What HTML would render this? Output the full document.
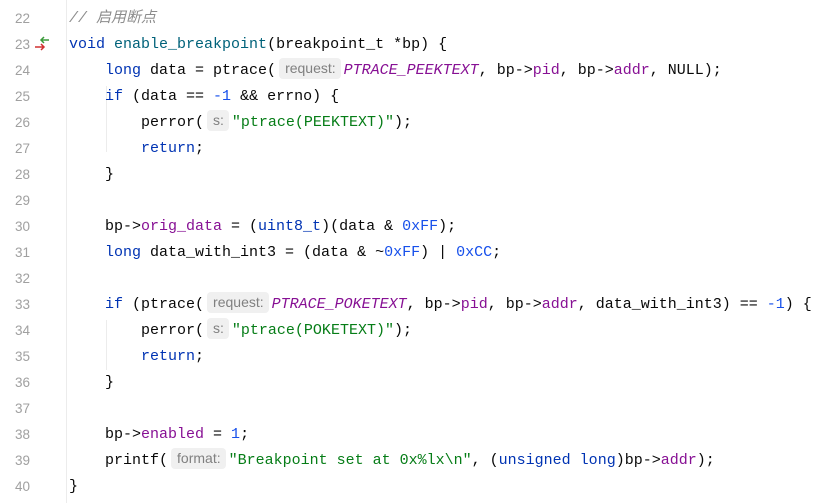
<!DOCTYPE html>
<html><head><meta charset="utf-8"><style>
body{margin:0;width:832px;height:503px;background:#fff;overflow:hidden;position:relative;font-family:"Liberation Mono","Noto Sans CJK SC",monospace;font-size:15px;color:#080808}
.ln{position:absolute;left:0;width:30px;text-align:right;color:#a0a0a0;font-size:13.5px;font-family:"Liberation Sans",sans-serif;line-height:26px}
.c{position:absolute;left:69px;white-space:pre;line-height:26px}
.k{color:#0033b3}.f{color:#00627a}.m{color:#871094;font-style:italic}.p{color:#871094}.s{color:#067d17}.n{color:#1750eb}.cm{color:#8c8c8c;font-style:italic}
.h{display:inline-block;background:#f0f0f0;color:#808080;font-family:"Liberation Sans",sans-serif;font-size:14px;line-height:21px;padding:0 5px 0 6px;border-radius:4px;margin:0 3px 0 3px;vertical-align:1px}
.sep{position:absolute;left:66px;top:0;width:1px;height:503px;background:#ececec}
.g{position:absolute;left:106px;width:1px;background:#ececec}
</style></head><body>
<div class="sep"></div>
<div class="g" style="top:86px;height:66px"></div>
<div class="g" style="top:320px;height:50px"></div>
<svg style="position:absolute;left:32px;top:34px" width="20" height="20"><path d="M3 13h9M9 10l3 3-3 3" stroke="#d03030" stroke-width="1.5" fill="none"/><path d="M17 6h-8M12 3l-3 3 3 3" stroke="#3a9a3a" stroke-width="1.5" fill="none"/></svg>
<div class="ln" style="top:6px">22</div><div class="c" style="top:6px"><span class="cm">// 启用断点</span></div>
<div class="ln" style="top:32px">23</div><div class="c" style="top:32px"><span class="k">void</span> <span class="f">enable_breakpoint</span>(breakpoint_t *bp) {</div>
<div class="ln" style="top:58px">24</div><div class="c" style="top:58px">    <span class="k">long</span> data = ptrace(<span class="h">request:</span><span class="m">PTRACE_PEEKTEXT</span>, bp-><span class="p">pid</span>, bp-><span class="p">addr</span>, NULL);</div>
<div class="ln" style="top:84px">25</div><div class="c" style="top:84px">    <span class="k">if</span> (data == <span class="n">-1</span> &amp;&amp; errno) {</div>
<div class="ln" style="top:110px">26</div><div class="c" style="top:110px">        perror(<span class="h">s:</span><span class="s">"ptrace(PEEKTEXT)"</span>);</div>
<div class="ln" style="top:136px">27</div><div class="c" style="top:136px">        <span class="k">return</span>;</div>
<div class="ln" style="top:162px">28</div><div class="c" style="top:162px">    }</div>
<div class="ln" style="top:188px">29</div>
<div class="ln" style="top:214px">30</div><div class="c" style="top:214px">    bp-><span class="p">orig_data</span> = (<span class="k">uint8_t</span>)(data &amp; <span class="n">0xFF</span>);</div>
<div class="ln" style="top:240px">31</div><div class="c" style="top:240px">    <span class="k">long</span> data_with_int3 = (data &amp; ~<span class="n">0xFF</span>) | <span class="n">0xCC</span>;</div>
<div class="ln" style="top:266px">32</div>
<div class="ln" style="top:292px">33</div><div class="c" style="top:292px">    <span class="k">if</span> (ptrace(<span class="h">request:</span><span class="m">PTRACE_POKETEXT</span>, bp-><span class="p">pid</span>, bp-><span class="p">addr</span>, data_with_int3) == <span class="n">-1</span>) {</div>
<div class="ln" style="top:318px">34</div><div class="c" style="top:318px">        perror(<span class="h">s:</span><span class="s">"ptrace(POKETEXT)"</span>);</div>
<div class="ln" style="top:344px">35</div><div class="c" style="top:344px">        <span class="k">return</span>;</div>
<div class="ln" style="top:370px">36</div><div class="c" style="top:370px">    }</div>
<div class="ln" style="top:396px">37</div>
<div class="ln" style="top:422px">38</div><div class="c" style="top:422px">    bp-><span class="p">enabled</span> = <span class="n">1</span>;</div>
<div class="ln" style="top:448px">39</div><div class="c" style="top:448px">    printf(<span class="h">format:</span><span class="s">"Breakpoint set at 0x%lx\n"</span>, (<span class="k">unsigned long</span>)bp-><span class="p">addr</span>);</div>
<div class="ln" style="top:474px">40</div><div class="c" style="top:474px">}</div>
</body></html>
